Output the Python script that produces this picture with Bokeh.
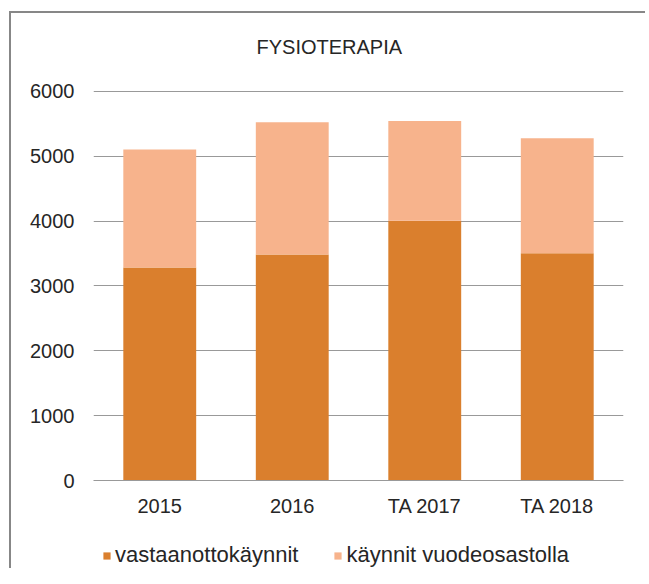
from bokeh.plotting import figure
from bokeh.models import ColumnDataSource, Range1d, FixedTicker, Legend
from bokeh.layouts import column
from bokeh.embed import file_html
from bokeh.resources import INLINE

categories = ["2015", "2016", "TA 2017", "TA 2018"]
vastaanottokaynnit = [3285, 3485, 4005, 3505]
vuodeosastolla = [1820, 2040, 1540, 1775]
series_names = ["vastaanottokäynnit", "käynnit vuodeosastolla"]
colors = ["#DA7F2D", "#F7B38C"]
y_ticks = [0, 1000, 2000, 3000, 4000, 5000, 6000]

source = ColumnDataSource(dict(cat=categories, a=vastaanottokaynnit, b=vuodeosastolla))

FONT = "Liberation Sans"
TXT = "#262626"
BORDER = "2px solid #878787"

p = figure(x_range=categories, y_range=Range1d(0, 6015), width=636, height=517,
           output_backend="svg", toolbar_location=None, title="FYSIOTERAPIA\n ",
           min_border_left=82, min_border_right=24, min_border_top=77, min_border_bottom=50)
p.styles = {"border-left": BORDER, "border-top": BORDER,
            "margin-left": "9px", "margin-top": "11px"}
p.outline_line_color = None

r = p.vbar_stack(["a", "b"], x="cat", width=0.55, source=source, color=colors,
                 line_color=None)

p.title.align = "left"
p.title.offset = 163
p.title.text_font = FONT
p.title.text_font_size = "20px"
p.title.text_font_style = "normal"
p.title.text_color = TXT
p.title.standoff = 21

p.yaxis.ticker = FixedTicker(ticks=y_ticks)
p.yaxis.axis_line_color = None
p.yaxis.major_tick_line_color = None
p.yaxis.major_tick_out = 0
p.yaxis.major_tick_in = 0
p.yaxis.minor_tick_line_color = None
p.yaxis.major_label_standoff = 19
p.yaxis.major_label_text_font = FONT
p.yaxis.major_label_text_font_size = "20px"
p.yaxis.major_label_text_color = TXT

p.xaxis.axis_line_color = "#999999"
p.xaxis.major_tick_line_color = None
p.xaxis.major_tick_out = 0
p.xaxis.major_tick_in = 0
p.xaxis.minor_tick_line_color = None
p.xaxis.major_label_standoff = 14
p.xaxis.major_label_text_font = FONT
p.xaxis.major_label_text_font_size = "20px"
p.xaxis.major_label_text_color = TXT

p.xgrid.grid_line_color = None
p.ygrid.grid_line_color = "#999999"
p.x_range.range_padding = 0.0

# legend strip: same series as hidden renderers, only the legend shows
lf = figure(x_range=categories, y_range=Range1d(-2, -1), width=636, height=40,
            output_backend="svg", toolbar_location=None,
            x_axis_location=None, y_axis_location=None,
            min_border_left=0, min_border_right=0, min_border_top=0, min_border_bottom=0)
lf.styles = {"border-left": BORDER, "margin-left": "9px"}
lf.outline_line_color = None
lf.grid.grid_line_color = None
rl = lf.vbar_stack(["a", "b"], x="cat", width=0.55, source=source, color=colors,
                   line_color=None)
for rr in rl:
    rr.visible = False

legend = Legend(items=[(series_names[0], [rl[0]]), (series_names[1], [rl[1]])],
                orientation="horizontal", location=(9, 0))
legend.label_text_font = FONT
legend.label_text_font_size = "22px"
legend.label_text_color = TXT
legend.glyph_width = 9
legend.glyph_height = 9
legend.label_standoff = 4
legend.spacing = 35
legend.border_line_color = None
legend.background_fill_alpha = 0
legend.inactive_fill_alpha = 0
legend.margin = 0
legend.padding = 4
lf.add_layout(legend, "center")

layout = column(p, lf, spacing=0)
open("out.html", "w").write(file_html(layout, INLINE))
